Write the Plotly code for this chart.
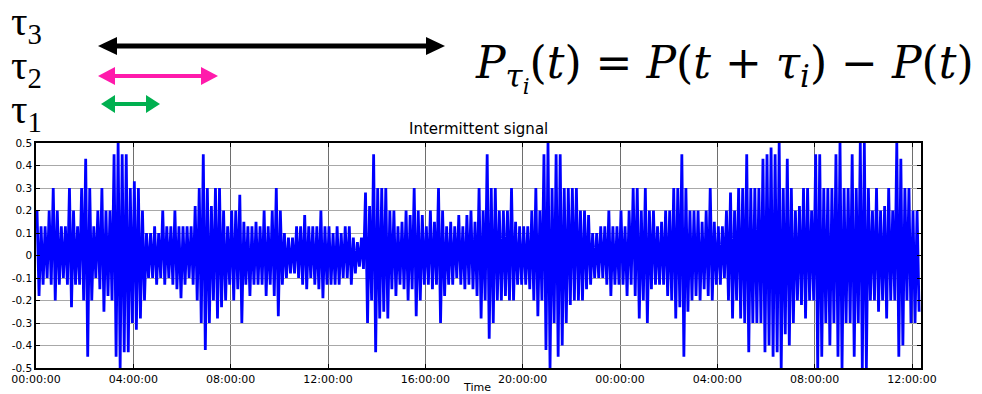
import plotly.graph_objects as go

# ---- data: envelope of the intermittent signal, one value per 10-minute column,
# grouped in 4-hour blocks (upper peak, lower peak)
up_00 = [0.2,0.13,0.13,0.2,0.3,0.2,0.13,0.13,0.3,0.2,0.13,0.3,0.43,0.3,0.13,0.2,0.3,0.2,0.2,0.45,0.5,0.45,0.45,0.3]
lo_00 = [-0.18,-0.13,-0.1,-0.13,-0.2,-0.13,-0.1,-0.13,-0.23,-0.13,-0.13,-0.2,-0.45,-0.2,-0.1,-0.15,-0.25,-0.18,-0.2,-0.45,-0.5,-0.43,-0.43,-0.3]
up_04 = [0.33,0.3,0.2,0.1,0.1,0.13,0.1,0.2,0.13,0.13,0.2,0.13,0.13,0.13,0.13,0.22,0.3,0.45,0.3,0.22,0.3,0.3,0.2,0.13]
lo_04 = [-0.33,-0.28,-0.2,-0.1,-0.1,-0.13,-0.1,-0.13,-0.1,-0.13,-0.15,-0.19,-0.13,-0.1,-0.13,-0.2,-0.3,-0.42,-0.3,-0.2,-0.28,-0.23,-0.2,-0.13]
up_08 = [0.2,0.2,0.27,0.15,0.13,0.13,0.15,0.13,0.2,0.13,0.2,0.3,0.2,0.1,0.08,0.08,0.13,0.13,0.18,0.13,0.13,0.13,0.2,0.13]
lo_08 = [-0.2,-0.15,-0.3,-0.13,-0.18,-0.13,-0.13,-0.13,-0.18,-0.13,-0.18,-0.27,-0.13,-0.1,-0.08,-0.08,-0.1,-0.13,-0.15,-0.1,-0.13,-0.15,-0.19,-0.13]
up_12 = [0.13,0.1,0.13,0.1,0.13,0.13,0.08,0.06,0.08,0.28,0.22,0.45,0.3,0.3,0.3,0.2,0.2,0.13,0.15,0.2,0.18,0.3,0.2,0.18]
lo_12 = [-0.13,-0.13,-0.13,-0.1,-0.1,-0.13,-0.08,-0.05,-0.06,-0.3,-0.2,-0.43,-0.28,-0.25,-0.28,-0.15,-0.18,-0.13,-0.15,-0.2,-0.15,-0.27,-0.2,-0.13]
up_16 = [0.13,0.2,0.15,0.3,0.2,0.13,0.15,0.13,0.18,0.13,0.18,0.2,0.15,0.3,0.2,0.45,0.3,0.3,0.2,0.2,0.2,0.3,0.15,0.13]
lo_16 = [-0.13,-0.15,-0.13,-0.3,-0.18,-0.13,-0.13,-0.1,-0.13,-0.15,-0.13,-0.15,-0.18,-0.28,-0.2,-0.37,-0.3,-0.2,-0.2,-0.18,-0.2,-0.2,-0.13,-0.13]
up_20 = [0.13,0.13,0.2,0.3,0.2,0.45,0.5,0.3,0.45,0.45,0.3,0.3,0.3,0.3,0.2,0.2,0.18,0.1,0.1,0.13,0.13,0.2,0.13,0.13]
lo_20 = [-0.13,-0.15,-0.2,-0.27,-0.2,-0.42,-0.5,-0.3,-0.45,-0.4,-0.3,-0.22,-0.2,-0.2,-0.2,-0.15,-0.13,-0.1,-0.1,-0.1,-0.13,-0.18,-0.13,-0.13]
up_24 = [0.2,0.13,0.2,0.3,0.3,0.2,0.3,0.2,0.2,0.13,0.15,0.2,0.2,0.3,0.3,0.45,0.3,0.2,0.2,0.2,0.15,0.2,0.3,0.15]
lo_24 = [-0.13,-0.18,-0.13,-0.18,-0.28,-0.2,-0.3,-0.15,-0.13,-0.13,-0.13,-0.18,-0.2,-0.28,-0.23,-0.45,-0.25,-0.2,-0.18,-0.2,-0.15,-0.18,-0.2,-0.13]
up_28 = [0.13,0.13,0.2,0.28,0.2,0.3,0.3,0.45,0.3,0.3,0.3,0.43,0.45,0.48,0.45,0.5,0.3,0.43,0.3,0.2,0.22,0.3,0.3,0.2]
lo_28 = [-0.13,-0.1,-0.2,-0.28,-0.2,-0.28,-0.3,-0.43,-0.3,-0.3,-0.3,-0.43,-0.4,-0.45,-0.43,-0.5,-0.35,-0.4,-0.3,-0.2,-0.22,-0.28,-0.2,-0.2]
up_32 = [0.45,0.45,0.3,0.3,0.3,0.45,0.5,0.3,0.3,0.45,0.3,0.5,0.5,0.3,0.2,0.3,0.2,0.22,0.3,0.2,0.5,0.43,0.3,0.3]
lo_32 = [-0.5,-0.45,-0.3,-0.4,-0.3,-0.45,-0.5,-0.3,-0.3,-0.45,-0.3,-0.5,-0.5,-0.2,-0.2,-0.25,-0.2,-0.28,-0.2,-0.2,-0.45,-0.4,-0.2,-0.3]
up_36 = [0.2,0.2]
lo_36 = [-0.3,-0.25]

x_tick_hours = [0, 4, 8, 12, 16, 20, 24, 28, 32, 36]
x_tick_labels = ["00:00:00", "04:00:00", "08:00:00", "12:00:00", "16:00:00",
                 "20:00:00", "00:00:00", "04:00:00", "08:00:00", "12:00:00"]
y_tick_vals = [0.5, 0.4, 0.3, 0.2, 0.1, 0, -0.1, -0.2, -0.3, -0.4, -0.5]
y_tick_labels = ["0.5", "0.4", "0.3", "0.2", "0.1", "0", "-0.1", "-0.2", "-0.3", "-0.4", "-0.5"]

upper = up_00 + up_04 + up_08 + up_12 + up_16 + up_20 + up_24 + up_28 + up_32 + up_36
lower = lo_00 + lo_04 + lo_08 + lo_12 + lo_16 + lo_20 + lo_24 + lo_28 + lo_32 + lo_36

xs, ys = [], []
for k, (u, l) in enumerate(zip(upper, lower)):
    xs += [k / 6 + 1 / 24, k / 6 + 1 / 8]
    ys += [u, l]

W, H = 982, 394
def px(x): return x / W
def py(y): return 1 - y / H

fig = go.Figure()
fig.add_trace(go.Scatter(x=xs, y=ys, mode="lines",
                         line=dict(color="#0000ff", width=2.8, simplify=False),
                         hoverinfo="skip", showlegend=False))

axis_font = dict(family="DejaVu Sans, sans-serif", size=11, color="black")
fig.update_layout(
    width=W, height=H, margin=dict(l=0, r=0, t=0, b=0, autoexpand=False),
    paper_bgcolor="white", plot_bgcolor="white", showlegend=False,
    xaxis=dict(domain=[px(36), px(921)], range=[0, 36.37], automargin=False,
               tickvals=x_tick_hours, ticktext=x_tick_labels,
               showgrid=True, gridcolor="#6e6e6e", gridwidth=1,
               showline=True, linecolor="black", linewidth=1.5, mirror="ticks",
               ticks="inside", ticklen=4, tickcolor="black",
               tickfont=axis_font, zeroline=False),
    yaxis=dict(domain=[1 - 368 / H, 1 - 143 / H], range=[-0.5, 0.5], automargin=False,
               tickvals=y_tick_vals, ticktext=y_tick_labels,
               showgrid=True, gridcolor="#a8a8a8", gridwidth=1,
               showline=True, linecolor="black", linewidth=1.5, mirror="ticks",
               ticks="inside", ticklen=4, tickcolor="black",
               tickfont=dict(family="DejaVu Sans, sans-serif", size=10.5, color="black"),
               zeroline=False),
)

def note(text, x, y, size, family, xanchor="center"):
    return dict(text=text, x=px(x), y=py(y), xref="paper", yref="paper",
                xanchor=xanchor, yanchor="middle", showarrow=False, borderpad=0,
                font=dict(family=family, size=size, color="black"))

sans = "DejaVu Sans, sans-serif"
serif = "Liberation Serif, serif"
annotations = [
    note("Intermittent signal", 478, 129, 15, sans),
    note("Time", 477, 387, 11, sans),
    note("τ<sub>3</sub>", 10, 24, 41, serif, "left"),
    note("τ<sub>2</sub>", 10, 68, 41, serif, "left"),
    note("τ<sub>1</sub>", 10, 112, 41, serif, "left"),
    note("<i>P</i><sub><i>τ</i><sub><i>i</i></sub></sub>(<i>t</i>) = <i>P</i>(<i>t</i> + <i>τ</i><sub><i>i</i></sub>) − <i>P</i>(<i>t</i>)",
         474, 68, 44, "DejaVu Serif, serif", "left"),
]
fig.update_layout(annotations=annotations)

def arrow(x0, x1, y, color, lw, hl, hh):
    shapes = [dict(type="line", xref="paper", yref="paper",
                   x0=px(x0 + hl * 0.6), x1=px(x1 - hl * 0.6), y0=py(y), y1=py(y),
                   line=dict(color=color, width=lw))]
    for tip, base in ((x0, x0 + hl), (x1, x1 - hl)):
        path = "M {} {} L {} {} L {} {} Z".format(px(tip), py(y), px(base), py(y - hh),
                                                  px(base), py(y + hh))
        shapes.append(dict(type="path", xref="paper", yref="paper", path=path,
                           fillcolor=color, line=dict(color=color, width=0)))
    return shapes

shapes = []
shapes += arrow(98, 445, 46, "black", 5, 19, 9)
shapes += arrow(98, 218, 76, "#ff1aab", 4, 17, 9)
shapes += arrow(101, 160, 104, "#00b050", 4, 14, 9)
fig.update_layout(shapes=shapes)

fig.write_html("out.html")
